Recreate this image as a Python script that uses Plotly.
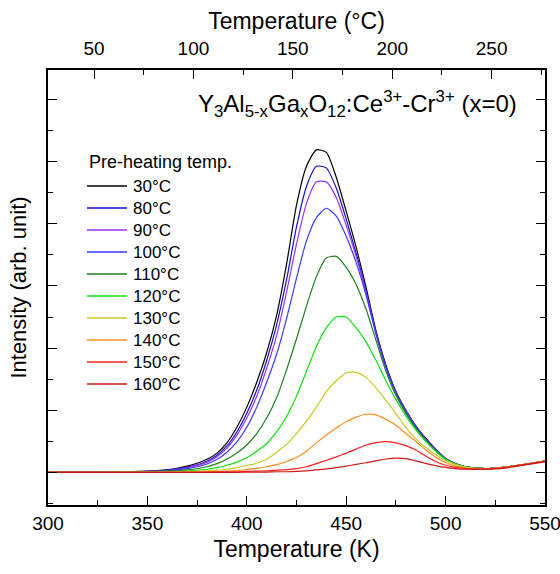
import plotly.graph_objects as go

# Temperature grid (K)
temp_K = [300, 330, 350, 360, 370, 380, 385, 390, 395, 400, 405, 410, 415, 420, 425,
          430, 435, 440, 445, 450, 455, 460, 465, 470, 475, 480, 485, 490, 495, 500,
          505, 510, 520, 530, 540, 550]

# Intensity (arb. unit) for each pre-heating temperature
i_30 = [0, 0.01, 0.04, 0.08, 0.20, 0.42, 0.62, 0.95, 1.45, 2.10, 2.90, 3.85, 5.05, 6.70, 8.60,
        9.85, 10.38, 10.30, 9.50, 8.40, 7.25, 5.95, 4.55, 3.45, 2.60, 2.00, 1.50, 1.10, 0.75, 0.45,
        0.28, 0.18, 0.12, 0.17, 0.26, 0.36]
i_80 = [0, 0.01, 0.03, 0.07, 0.17, 0.36, 0.55, 0.85, 1.30, 1.90, 2.65, 3.60, 4.75, 6.20, 7.90,
        9.20, 9.85, 9.80, 9.15, 8.15, 7.05, 5.85, 4.50, 3.40, 2.58, 1.98, 1.48, 1.08, 0.74, 0.45,
        0.28, 0.18, 0.12, 0.17, 0.26, 0.36]
i_90 = [0, 0.01, 0.03, 0.06, 0.15, 0.33, 0.50, 0.78, 1.20, 1.75, 2.45, 3.35, 4.40, 5.80, 7.35,
        8.65, 9.35, 9.35, 8.85, 7.95, 6.95, 5.80, 4.47, 3.38, 2.56, 1.97, 1.47, 1.07, 0.73, 0.45,
        0.28, 0.18, 0.12, 0.17, 0.26, 0.36]
i_100 = [0, 0.01, 0.02, 0.05, 0.12, 0.27, 0.42, 0.65, 0.98, 1.45, 2.10, 2.90, 3.80, 4.95, 6.25,
         7.45, 8.20, 8.50, 8.25, 7.60, 6.75, 5.70, 4.45, 3.37, 2.55, 1.96, 1.46, 1.06, 0.72, 0.44,
         0.28, 0.18, 0.12, 0.17, 0.26, 0.36]
i_110 = [0, 0.01, 0.02, 0.04, 0.08, 0.18, 0.28, 0.42, 0.62, 0.88, 1.25, 1.75, 2.40, 3.30, 4.30,
         5.35, 6.30, 6.90, 6.95, 6.60, 6.05, 5.25, 4.25, 3.25, 2.48, 1.90, 1.42, 1.03, 0.70, 0.43,
         0.27, 0.18, 0.12, 0.17, 0.26, 0.36]
i_120 = [0, 0, 0.01, 0.02, 0.04, 0.10, 0.15, 0.23, 0.33, 0.47, 0.68, 0.93, 1.30, 1.80, 2.45,
         3.25, 4.05, 4.65, 5.00, 5.00, 4.65, 4.20, 3.60, 2.95, 2.35, 1.82, 1.37, 1.00, 0.68, 0.42,
         0.27, 0.18, 0.12, 0.17, 0.26, 0.36]
i_130 = [0, 0, 0, 0.01, 0.02, 0.05, 0.07, 0.10, 0.15, 0.22, 0.30, 0.42, 0.65, 0.90, 1.25,
         1.65, 2.10, 2.60, 2.95, 3.20, 3.22, 3.05, 2.72, 2.32, 1.90, 1.45, 1.08, 0.80, 0.57, 0.38,
         0.25, 0.17, 0.12, 0.17, 0.26, 0.36]
i_140 = [0, 0, 0, 0, 0.01, 0.02, 0.03, 0.04, 0.06, 0.09, 0.13, 0.18, 0.25, 0.35, 0.48,
         0.68, 0.95, 1.20, 1.43, 1.63, 1.78, 1.87, 1.85, 1.70, 1.52, 1.25, 1.00, 0.72, 0.49, 0.32,
         0.20, 0.14, 0.11, 0.16, 0.26, 0.36]
i_150 = [0, 0, 0, 0, 0, 0.01, 0.01, 0.02, 0.02, 0.03, 0.04, 0.05, 0.07, 0.09, 0.12,
         0.18, 0.28, 0.39, 0.50, 0.62, 0.75, 0.88, 0.96, 0.99, 0.95, 0.86, 0.72, 0.53, 0.35, 0.23,
         0.16, 0.12, 0.11, 0.16, 0.26, 0.36]
i_160 = [0, 0, 0, 0, 0, 0, 0, 0, 0, 0.01, 0.01, 0.01, 0.02, 0.02, 0.03,
         0.05, 0.08, 0.11, 0.15, 0.20, 0.26, 0.31, 0.37, 0.43, 0.46, 0.44, 0.37, 0.29, 0.22, 0.16,
         0.12, 0.10, 0.10, 0.14, 0.24, 0.34]

labels = ["30°C", "80°C", "90°C", "100°C", "110°C", "120°C", "130°C", "140°C", "150°C", "160°C"]
series = [i_30, i_80, i_90, i_100, i_110, i_120, i_130, i_140, i_150, i_160]
colors = ["#000000", "#1010C8", "#9A30FF", "#3A3AFF", "#1E7E1E", "#10E010",
          "#C8C820", "#FF8C20", "#FF2020", "#CC1A1A"]
legend_title = "Pre-heating temp."

x_ticks_K = [300, 350, 400, 450, 500, 550]
x_ticks_C = [50, 100, 150, 200, 250]

FONT = "Arial, Liberation Sans, sans-serif"
W, H = 560, 574
ML, MR, MT, MB = 48, 15, 70, 69
PW, PH = W - ML - MR, H - MT - MB


def px_to_paper(px, py):
    return (px - ML) / PW, (H - MB - py) / PH


fig = go.Figure()
for lab, ys, c in zip(labels, series, colors):
    fig.add_trace(go.Scatter(x=temp_K, y=ys, mode="lines", name=lab, showlegend=False,
                             line=dict(color=c, width=1.2, shape="spline", smoothing=0.6)))

# dummy trace on the Celsius (top) axis
fig.add_trace(go.Scatter(x=[temp_K[0] - 273.15, temp_K[-1] - 273.15], y=[None, None],
                         xaxis="x2", yaxis="y", mode="lines", showlegend=False, hoverinfo="skip"))

axis_common = dict(showline=True, linecolor="black", linewidth=1.5, ticks="inside",
                   ticklen=9, tickwidth=1.3, tickcolor="black", showgrid=False, zeroline=False,
                   automargin=False, ticklabeloverflow="allow",
                   tickfont=dict(family=FONT, size=19, color="black"))

fig.update_layout(
    width=W, height=H,
    margin=dict(l=ML, r=MR, t=MT, b=MB, autoexpand=False),
    paper_bgcolor="white", plot_bgcolor="white",
    font=dict(family=FONT, color="black"),
    showlegend=False,
    xaxis=dict(range=[300, 550], tickvals=x_ticks_K,
               minor=dict(dtick=25, ticklen=5, tickwidth=1.3, tickcolor="black", ticks="inside"),
               title=dict(text="Temperature (K)", font=dict(family=FONT, size=23), standoff=8),
               **axis_common),
    xaxis2=dict(range=[300 - 273.15, 550 - 273.15], overlaying="x", side="top", anchor="y",
                tickvals=x_ticks_C, ticklabelstandoff=6,
                minor=dict(dtick=25, tick0=0, ticklen=5, tickwidth=1.3, tickcolor="black", ticks="inside"),
                title=dict(text="Temperature (°C)", font=dict(family=FONT, size=23), standoff=2),
                **axis_common),
    yaxis=dict(range=[-1.05, 12.95], dtick=2, tick0=0, mirror="ticks", showticklabels=False,
               minor=dict(dtick=1, ticklen=5, tickwidth=1.3, tickcolor="black", ticks="inside"),
               title=dict(text="Intensity (arb. unit)", font=dict(family=FONT, size=22), standoff=14),
               **axis_common),
)

# Legend drawn as line samples + text (title, then one row per series)
tx, ty = px_to_paper(87, 162)
fig.add_annotation(text=legend_title, xref="paper", yref="paper", x=tx, y=ty,
                   xanchor="left", yanchor="middle", showarrow=False,
                   font=dict(family=FONT, size=18, color="black"))
for k, (lab, c) in enumerate(zip(labels, colors)):
    row_y = 186 + 22 * k
    x0, y0 = px_to_paper(87, row_y)
    x1, _ = px_to_paper(127, row_y)
    fig.add_shape(type="line", xref="paper", yref="paper", x0=x0, x1=x1, y0=y0, y1=y0,
                  line=dict(color=c, width=1.5))
    lx, _ = px_to_paper(131, row_y)
    fig.add_annotation(text=lab, xref="paper", yref="paper", x=lx, y=y0,
                       xanchor="left", yanchor="middle", showarrow=False,
                       font=dict(family=FONT, size=17, color="black"))

ax, ay = px_to_paper(519, 104)
fig.add_annotation(
    text="Y<sub>3</sub>Al<sub>5-x</sub>Ga<sub>x</sub>O<sub>12</sub>:Ce<sup>3+</sup>-Cr<sup>3+</sup> (x=0)",
    xref="paper", yref="paper", x=ax, y=ay, xanchor="right", yanchor="middle",
    showarrow=False, font=dict(family=FONT, size=24, color="black"))

fig.write_html("out.html")
